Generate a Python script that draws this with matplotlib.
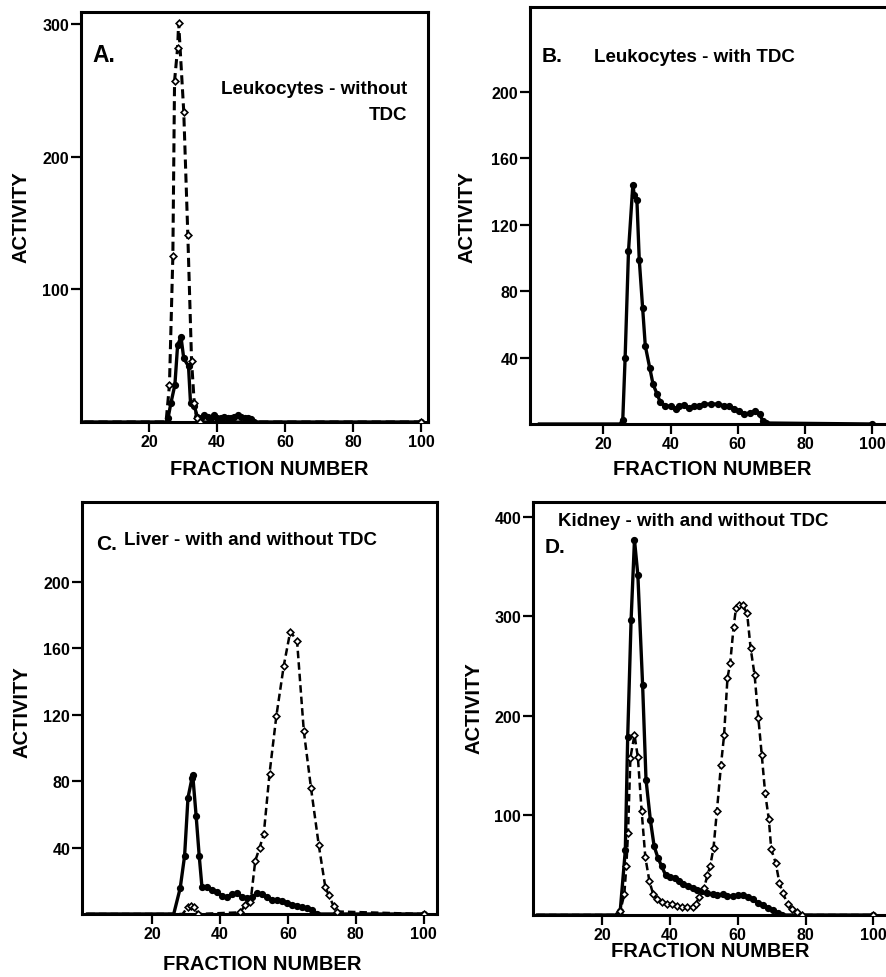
import matplotlib
matplotlib.use("Agg")
import matplotlib.pyplot as plt

plt.rcParams['font.family'] = ['Liberation Sans', 'DejaVu Sans']
plt.rcParams['font.weight'] = 'bold'

# Panel A - leukocytes without TDC
a_dash_x = [1, 25, 26, 27, 27.5, 28.4, 28.7, 30.2, 31.4, 32.5, 33.3, 34, 35, 100]
a_dash_y = [0, 0, 28, 125, 257, 282, 301, 234, 141, 46, 14, 3, 0, 0]
a_solid_x = [1, 25, 25.6, 26.4, 27.6, 28.4, 29.4, 30.2, 31.6, 32.2, 33.3, 34.2, 35.2, 36.2, 37.2,
             38.2, 39.1, 40.1, 41.1, 42.1, 43.1, 44.1, 45.1, 46.1, 47.1, 48.1, 49.1, 50.1, 51, 100]
a_solid_y = [0, 0, 3, 14, 28, 58, 64, 48, 42, 14, 12, 4, 3, 5, 4,
             3, 5, 3, 3, 4, 3, 3, 4, 5, 4, 3, 3, 2, 0, 0]

# Panel B - leukocytes with TDC
b_x = [1, 25, 25.8, 26.5, 27.5, 28.8, 29.2, 30, 30.7, 31.7, 32.5, 33.8, 34.8, 36, 37, 38.5, 40, 41.5,
       42.5, 44, 45.5, 47, 48.5, 50, 52, 54, 56, 57.5, 59, 60.5, 62, 63.5, 65, 66.5, 67.5, 68.5, 100]
b_y = [0, 0, 2.6, 40, 104, 144, 138, 135, 99, 70, 47, 34, 24, 18, 13, 11, 10.6, 9,
       10.6, 11.6, 9.6, 10.6, 11, 12, 12, 12, 11, 11, 9, 7.6, 6, 6.6, 7.6, 6, 1.6, 0.6, 0]

# Panel C - liver
c_solid_x = [1, 26.4, 28.3, 29.6, 30.6, 31.8, 32, 33, 33.9, 34.7, 36.2, 37.7, 39.1, 40.6, 42.1,
             43.6, 45, 46.5, 48, 49.4, 50.9, 52.4, 53.9, 55.3, 56.8, 58.3, 59.7, 61.2, 62.7,
             64.2, 65.6, 67.1, 68.5, 100]
c_solid_y = [0, 0, 15.5, 35, 70, 82, 83.5, 59, 35, 16.5, 16, 14.5, 13.3, 11, 10,
             12, 12.5, 10.5, 9.5, 10, 12.5, 12, 10, 8.5, 8.5, 8, 6.6, 5.6, 5,
             4, 3.6, 2.6, 0, 0]
c_dash_x = [1, 29, 30.5, 31.5, 32.5, 33.5, 46, 47.5, 49, 50.4, 51.7, 52.9, 54.6, 56.6, 58.8,
            60.7, 62.7, 64.7, 66.8, 69.1, 71, 72, 73.5, 74.5, 100]
c_dash_y = [0, 0, 4, 5, 4, 0, 1, 5.6, 7, 32, 40, 48, 84.5, 119, 149.5,
            170, 164.5, 110, 76, 41.4, 16.5, 11.5, 4.6, 1.5, 0]

# Panel D - kidney
d_solid_x = [1, 24, 25.4, 26.9, 27.6, 28.6, 29.6, 30.6, 32, 33, 34.3, 35.4, 36.5, 37.6, 38.8,
             40, 41.4, 42.7, 44, 45.4, 46.7, 48.1, 49.6, 51.1, 52.6, 54, 55.6, 57, 58.5, 60,
             61.5, 63, 64.4, 65.9, 67.4, 68.9, 70.4, 71.9, 73, 100]
d_solid_y = [0, 0, 4, 65, 178.5, 296, 377, 341.5, 231, 136, 95, 69, 57.6, 49, 40,
             38, 37.5, 34, 31, 29, 27, 25, 24, 21.7, 21, 20, 21, 19, 19, 20,
             19.7, 18, 15.7, 12.4, 9.7, 6.7, 4.7, 2.3, 0, 0]
d_dash_x = [1, 24.8, 25.4, 26.6, 27.2, 27.7, 28.4, 29.6, 30.6, 31.7, 32.8, 34, 35.1, 36.3, 37.8, 39.3,
            40.7, 42.2, 43.7, 45.2, 46.7, 47.7, 48.6, 50.1, 51.1, 51.9, 52.9, 53.9, 55.1, 56,
            57, 57.8, 58.8, 59.5, 60.3, 61.5, 62.8, 63.8, 65, 66.1, 67.1, 68.1, 69.2, 69.9,
            71.2, 72.3, 73.3, 74.8, 76, 77.6, 79, 100]
d_dash_y = [0, 0, 4, 20.7, 49, 82.6, 158, 181, 158.5, 105, 58, 34, 21, 15.7, 13.4, 11.4,
            10.7, 9, 8, 8, 8, 10.7, 18, 27, 40, 49, 67.6, 105, 151, 180.5,
            238, 253, 289, 308, 311, 311, 303, 268.7, 241, 198, 161, 122.7, 96, 66,
            52.6, 32.5, 22, 10.7, 5.7, 3.3, 0, 0]

x_ticks = [20, 40, 60, 80, 100]

W, H = 887, 978
fig = plt.figure(figsize=(W / 100, H / 100), dpi=100)


def box(left, top, right, bottom):
    return [left / W, 1 - bottom / H, (right - left) / W, (bottom - top) / H]


def solid(ax, x, y):
    ax.plot(x, y, color='black', lw=2.4, marker='o', ms=4.2, mfc='black', mec='black',
            markevery=list(range(2, len(x))), zorder=3)


def dashed(ax, x, y, lw=1.8):
    ax.plot(x, y, color='black', lw=lw, ls=(0, (3, 1.6)), marker='D', ms=3.4,
            mfc='white', mec='black', mew=1.2, markevery=list(range(2, len(x))), zorder=4)


def style(ax, xlim, ylim, yticks):
    ax.set_xlim(*xlim)
    ax.set_ylim(*ylim)
    ax.set_xticks(x_ticks)
    ax.set_yticks(yticks)
    for s in ax.spines.values():
        s.set_linewidth(2.2)
    ax.tick_params(direction='out', length=7, width=1.6, pad=1.5, labelsize=11.5)
    for lab in ax.get_xticklabels() + ax.get_yticklabels():
        lab.set_fontweight('bold')


def ftext(px, py, s, **kw):
    kw.setdefault('fontweight', 'bold')
    fig.text(px / W, 1 - py / H, s, **kw)


# A
axA = fig.add_axes(box(81, 13, 428, 423))
dashed(axA, a_dash_x, a_dash_y, lw=2.2)
solid(axA, a_solid_x, a_solid_y)
style(axA, (0, 102), (0, 309), [100, 200, 300])

# B
axB = fig.add_axes(box(530, 8, 888, 425))
solid(axB, b_x, b_y)
style(axB, (-1.8, 104.7), (0, 251), [40, 80, 120, 160, 200])

# C
axC = fig.add_axes(box(82, 503, 437, 915))
solid(axC, c_solid_x, c_solid_y)
dashed(axC, c_dash_x, c_dash_y)
style(axC, (-0.6, 103.9), (0, 248), [40, 80, 120, 160, 200])

# D
axD = fig.add_axes(box(533, 503, 889, 916))
solid(axD, d_solid_x, d_solid_y)
dashed(axD, d_dash_x, d_dash_y)
style(axD, (-0.3, 104.6), (0, 415), [100, 200, 300, 400])

# panel letters and titles
ftext(92, 56, 'A.', fontsize=16.5, va='center')
ftext(407, 90, 'Leukocytes - without', fontsize=13.5, va='center', ha='right')
ftext(407, 115, 'TDC', fontsize=13.5, va='center', ha='right')
ftext(542, 57, 'B.', fontsize=15, va='center')
ftext(594, 57, 'Leukocytes - with TDC', fontsize=13.5, va='center')
ftext(96, 544, 'C.', fontsize=15, va='center')
ftext(124, 541, 'Liver - with and without TDC', fontsize=13.5, va='center')
ftext(558, 521, 'Kidney - with and without TDC', fontsize=13.5, va='center')
ftext(545, 548, 'D.', fontsize=15, va='center')

# axis labels
for cx, cy in [(21, 217), (467, 217), (22, 712), (474, 708)]:
    ftext(cx, cy, 'ACTIVITY', fontsize=14.5, rotation=90, ha='center', va='center')
for cx, cy in [(269, 470), (712, 470), (262, 965), (710, 952)]:
    ftext(cx, cy, 'FRACTION NUMBER', fontsize=14.5, ha='center', va='center')

fig.savefig('out.png', dpi=100)
